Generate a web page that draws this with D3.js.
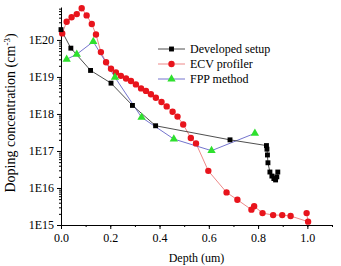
<!DOCTYPE html>
<meta charset="utf-8">
<script src="https://d3js.org/d3.v7.min.js"></script>
<style>
  body { margin: 0; background: #fff; }
  svg text { font-family: "Liberation Serif", "DejaVu Serif", serif !important; }
</style>
<div id="chart"></div>
<script>
    // depth (um) / concentration (cm^-3) per series
    var devDepth = [0.0, 0.04, 0.12, 0.203, 0.29, 0.384, 0.686, 0.834, 0.836, 0.838, 0.84, 0.848, 0.856, 0.864, 0.871, 0.876, 0.88];
    var devConc  = [1.9e20, 6e19, 1.5e19, 6.8e18, 1.7e18, 4.8e17, 2e17, 1.4e17, 1.12e17, 7.8e16, 4.8e16, 2.7e16, 2.1e16, 1.8e16, 1.65e16, 2e16, 2.7e16];

    var ecvDepth = [0.005, 0.023, 0.043, 0.064, 0.084, 0.104, 0.125, 0.142, 0.162, 0.183, 0.203, 0.223, 0.243, 0.264, 0.284, 0.304, 0.325, 0.345, 0.365, 0.385, 0.408, 0.429, 0.453, 0.473, 0.496, 0.527, 0.548, 0.598, 0.672, 0.716, 0.773, 0.784, 0.818, 0.861, 0.898, 0.932, 1.003, 0.997];
    var ecvConc  = [1.5e20, 3.1e20, 4.1e20, 5e20, 7.2e20, 4.6e20, 2.7e20, 1.4e20, 4.7e19, 2.5e19, 1.66e19, 1.32e19, 1.07e19, 9.1e18, 7.8e18, 6.3e18, 4.9e18, 4.2e18, 3.4e18, 2.75e18, 2.1e18, 1.6e18, 1.15e18, 8.5e17, 5.2e17, 2.25e17, 1.6e17, 2.9e16, 7.6e15, 4.8e15, 2.6e15, 3.2e15, 2.1e15, 1.85e15, 1.85e15, 1.75e15, 1.23e15, 2.1e15];

    var fppDepth = [0.023, 0.064, 0.131, 0.219, 0.327, 0.458, 0.611, 0.787];
    var fppConc  = [3e19, 4.1e19, 9e19, 9.8e18, 8.1e17, 2.1e17, 1.02e17, 3e17];

    var xTicks = [0, 0.2, 0.4, 0.6, 0.8, 1.0];
    var yTicks = [1e15, 1e16, 1e17, 1e18, 1e19, 1e20];
    var seriesNames = ["Developed setup", "ECV profiler", "FPP method"];

    var serif = "Liberation Serif, DejaVu Serif, serif";
    var width = 341, height = 266;
    var margin = {top: 7, right: 9, bottom: 41, left: 61};
    var w = width - margin.left - margin.right;
    var h = height - margin.top - margin.bottom;

    var svg = d3.select("#chart").append("svg")
        .attr("width", width)
        .attr("height", height)
        .attr("font-family", serif);
    var g = svg.append("g")
        .attr("transform", "translate(" + margin.left + "," + margin.top + ")");

    var x = d3.scaleLinear().domain([0, 1.1]).range([0, w]);
    var y = d3.scaleLog().domain([1e15, Math.pow(10, 20.89)]).range([h, 0]);

    // minor ticks
    var xMinor = d3.range(0, 1.11, 0.1);
    g.append("g")
        .attr("transform", "translate(0," + h + ")")
        .call(d3.axisBottom(x).tickValues(xMinor).tickSize(2).tickFormat(""))
        .call(function(s) { s.select(".domain").remove(); });

    var yMinor = [];
    for (var e = 15; e <= 20; e++) {
        for (var k = 2; k <= 9; k++) {
            var v = k * Math.pow(10, e);
            if (v <= y.domain()[1]) yMinor.push(v);
        }
    }
    g.append("g")
        .call(d3.axisLeft(y).tickValues(yMinor).tickSize(2).tickFormat(""))
        .call(function(s) { s.select(".domain").remove(); });

    var xAxis = g.append("g")
        .attr("transform", "translate(0," + h + ")")
        .call(d3.axisBottom(x).tickValues(xTicks).tickSize(4).tickSizeOuter(0)
            .tickFormat(d3.format(".1f")));
    xAxis.attr("font-family", serif);
    xAxis.selectAll("text").attr("font-size", 12).attr("dy", "0.85em");

    var yAxis = g.append("g")
        .call(d3.axisLeft(y).tickValues(yTicks).tickSize(4).tickSizeOuter(0)
            .tickFormat(function(d) { return "1E" + Math.round(Math.log10(d)); }));
    yAxis.attr("font-family", serif);
    yAxis.selectAll("text").attr("font-size", 12);

    g.selectAll(".domain").attr("stroke", "#000");
    g.selectAll(".tick line").attr("stroke", "#000");

    var line = d3.line()
        .x(function(d) { return x(d[0]); })
        .y(function(d) { return y(d[1]); });

    var dev = d3.zip(devDepth, devConc);
    var ecv = d3.zip(ecvDepth, ecvConc);
    var fpp = d3.zip(fppDepth, fppConc);

    g.append("path").datum(ecv).attr("d", line)
        .attr("fill", "none").attr("stroke", "#e86a6a").attr("stroke-width", 0.8);
    g.append("path").datum(fpp).attr("d", line)
        .attr("fill", "none").attr("stroke", "#5050c0").attr("stroke-width", 0.8);
    g.append("path").datum(dev).attr("d", line)
        .attr("fill", "none").attr("stroke", "#222").attr("stroke-width", 0.8);

    var sq = d3.symbol().type(d3.symbolSquare).size(24);
    var ci = d3.symbol().type(d3.symbolCircle).size(32);
    var tr = d3.symbol().type(d3.symbolTriangle).size(30);

    g.selectAll(".ecv").data(ecv).enter().append("path")
        .attr("d", ci)
        .attr("transform", function(d) { return "translate(" + x(d[0]) + "," + y(d[1]) + ")"; })
        .attr("fill", "#e8141c");
    g.selectAll(".fpp").data(fpp).enter().append("path")
        .attr("d", tr)
        .attr("transform", function(d) { return "translate(" + x(d[0]) + "," + y(d[1]) + ")"; })
        .attr("fill", "#2ee02e");
    g.selectAll(".dev").data(dev).enter().append("path")
        .attr("d", sq)
        .attr("transform", function(d) { return "translate(" + x(d[0]) + "," + y(d[1]) + ")"; })
        .attr("fill", "#000");

    // legend
    var legColors = ["#222", "#e86a6a", "#5050c0"];
    var legFill = ["#000", "#e8141c", "#2ee02e"];
    var legSym = [sq, ci, tr];
    var leg = svg.append("g").attr("transform", "translate(158,49)");
    seriesNames.forEach(function(name, i) {
        var row = leg.append("g").attr("transform", "translate(0," + (i * 15) + ")");
        row.append("line").attr("x1", 0).attr("x2", 27).attr("y1", 0).attr("y2", 0)
            .attr("stroke", legColors[i]).attr("stroke-width", 0.8);
        row.append("path").attr("d", legSym[i]).attr("transform", "translate(13.5,0)").attr("fill", legFill[i]);
        row.append("text").attr("x", 32).attr("y", 4).attr("font-size", 12)
            .attr("font-family", serif).text(name);
    });

    // axis titles
    svg.append("text")
        .attr("x", margin.left + x(0.55))
        .attr("y", 262)
        .attr("text-anchor", "middle")
        .attr("font-size", 12)
        .attr("font-family", serif)
        .text("Depth (um)");

    var yt = svg.append("text")
        .attr("transform", "translate(15,113) rotate(-90)")
        .attr("text-anchor", "middle")
        .attr("font-family", serif)
        .attr("font-size", 14);
    yt.append("tspan").text("Doping concentration (cm");
    yt.append("tspan").attr("dy", -5).attr("font-size", 9).text("-3");
    yt.append("tspan").attr("dy", 5).text(")");
</script>
